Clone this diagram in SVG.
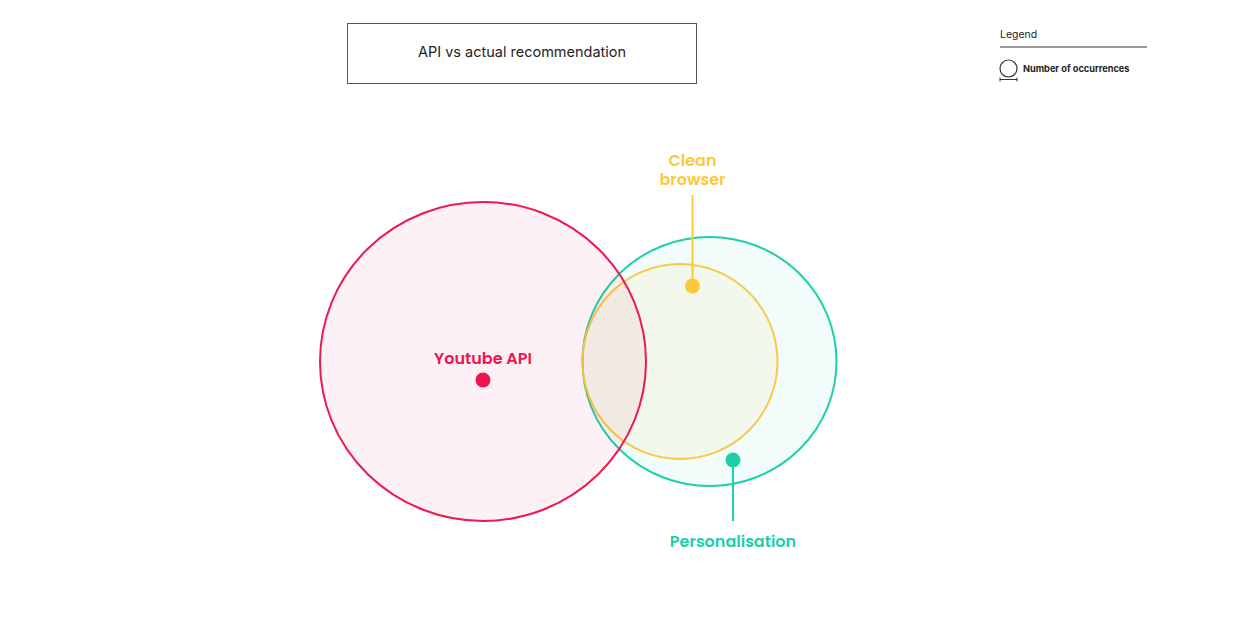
<svg xmlns="http://www.w3.org/2000/svg" width="1249" height="635" viewBox="0 0 1249 635">
<style>
.lbl{font-family:Poppins,"Open Sans","Noto Sans",sans-serif;font-weight:600;font-size:16px;text-anchor:middle}
.title{font-family:Inter,"Liberation Sans",sans-serif;font-size:14.5px;fill:#222;text-anchor:middle}
.leg{font-family:Inter,"Liberation Sans",sans-serif;fill:#222}
</style>
<rect width="1249" height="635" fill="#fff"/>
<g id="title">
<rect x="347.5" y="23.5" width="349" height="60" fill="#fff" stroke="#555" stroke-width="1"/>
<text class="title" x="522" y="57">API vs actual recommendation</text>
</g>
<g id="legend">
<text class="leg" x="1000" y="38" font-size="10.5">Legend</text>
<line x1="1000" y1="47" x2="1147" y2="47" stroke="#333" stroke-width="1.2"/>
<circle cx="1008.5" cy="68.5" r="8.5" fill="none" stroke="#333" stroke-width="1.2"/>
<path d="M1000 79.5H1017M1000 77.5V81.5M1017 77.5V81.5" stroke="#333" stroke-width="1"/>
<text class="leg" x="1023" y="72" font-size="9.2" font-weight="bold">Number of occurrences</text>
</g>
<g id="personalisation">
<ellipse cx="709.5" cy="361.5" rx="127" ry="124.5" fill="#1ad1a5" fill-opacity="0.06" stroke="#1ecfa8" stroke-width="2"/>
</g>
<g id="clean-browser">
<circle cx="680" cy="361.5" r="97.5" fill="#fccb3a" fill-opacity="0.07" stroke="#f8c84a" stroke-width="2"/>
</g>
<g id="youtube-api">
<ellipse cx="483" cy="361.5" rx="163" ry="159.5" fill="#f0134d" fill-opacity="0.06" stroke="#ec1a4e" stroke-width="2"/>
</g>
<g id="connectors">
<line x1="692.5" y1="195" x2="692.5" y2="286" stroke="#fcc93a" stroke-width="2"/>
<line x1="733" y1="460" x2="733" y2="521" stroke="#1ecfa8" stroke-width="2"/>
</g>
<g id="youtube-api-label">
<text class="lbl" x="483" y="364" fill="#f0134d">Youtube API</text>
<circle cx="483" cy="380" r="7.5" fill="#f0134d"/>
</g>
<g id="clean-browser-label">
<text class="lbl" x="692.5" y="166" fill="#fcc93a"><tspan x="692.5" y="166">Clean</tspan><tspan x="692.5" y="185">browser</tspan></text>
<circle cx="692.5" cy="286" r="7.5" fill="#fcc93a"/>
</g>
<g id="personalisation-label">
<text class="lbl" x="733" y="547" fill="#1ecfa8">Personalisation</text>
<circle cx="733" cy="460" r="7.5" fill="#1ecfa8"/>
</g>
</svg>
